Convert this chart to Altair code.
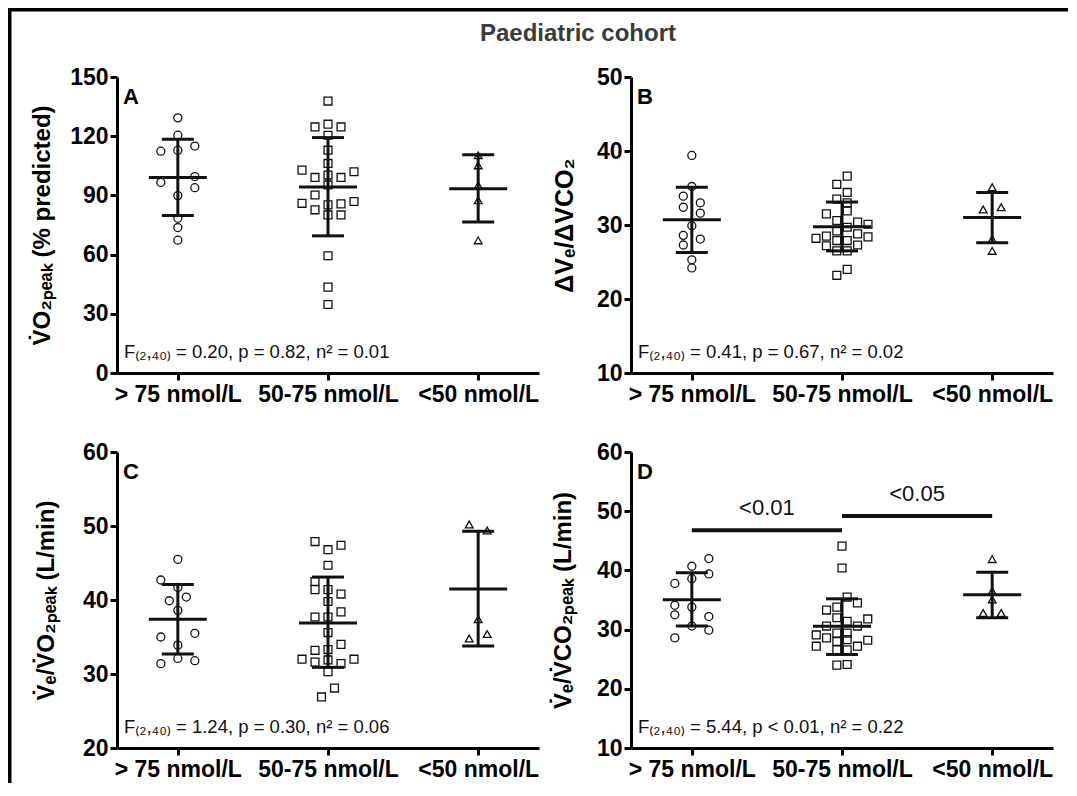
import altair as alt
import pandas as pd

FONT = "Liberation Sans"
CATEGORIES = ["> 75 nmol/L", "50-75 nmol/L", "<50 nmol/L"]
SUPER_TITLE = "Paediatric cohort"

# ---------- Panel A : VO2peak (% predicted) ----------
A_G1 = [129.3, 120.5, 112.4, 112.9, 115.0, 96.6, 99.5, 93.9, 89.9, 78.4, 73.7, 67.3]
A_G1_LANE = [0, 0, -1, 0, 1, -1, 1, 1, 0, 0, 0, 0]
A_G2 = [137.8, 124.7, 126.1, 124.7, 120.5, 112.9, 106.2, 102.8, 102.0, 99.1, 100.3, 99.1,
        95.3, 90.2, 86.0, 86.9, 82.7, 85.2, 85.7, 80.1, 80.1, 59.4, 43.5, 34.7]
A_G2_LANE = [0, -1, 0, 1, 0, 0, 0, -2, 2, -1, 0, 1, 0, -1, -2, 2, -1, 0, 1, 0, 1, 0, 0, 0]
A_G3 = [110.3, 105.2, 95.1, 87.5, 67.2]
A_G3_LANE = [0, 0, 0, 0, 0]
A_MEAN = [99.1, 94.3, 93.4]
A_SD_LO = [79.8, 69.5, 76.5]
A_SD_HI = [118.5, 119.3, 110.6]
A_STAT = "F₍₂,₄₀₎ = 0.20, p = 0.82, n² = 0.01"

# ---------- Panel B : dVE/dVCO2 ----------
B_G1 = [39.4, 35.2, 33.9, 33.0, 32.4, 31.6, 29.9, 28.6, 28.1, 27.3, 25.3, 24.2]
B_G1_LANE = [0, 0, -1, 1, -1, 1, 0, -1, 1, -1, 0, 0]
B_G2 = [36.6, 35.5, 34.4, 33.5, 33.0, 31.5, 31.9, 30.6, 30.4, 30.1, 29.7, 29.2,
        28.8, 28.2, 28.5, 28.4, 27.9, 27.9, 27.2, 27.3, 26.5, 26.5, 24.0, 23.2]
B_G2_LANE = [0.5, -0.5, 0.5, -0.5, 0.5, -1.5, 0.5, -0.5, 1.5, 2.5, 0.5, -0.5,
             1.5, -2.5, -1.5, 2.5, -0.5, 0.5, -1.5, 1.5, -0.5, 0.5, 0.5, -0.5]
B_G3 = [35.1, 32.4, 32.1, 28.1, 26.5]
B_G3_LANE = [0, 1, -1, 0, 0]
B_MEAN = [30.7, 29.75, 31.0]
B_SD_LO = [26.3, 26.5, 27.6]
B_SD_HI = [35.1, 33.1, 34.4]
B_STAT = "F₍₂,₄₀₎ = 0.41, p = 0.67, n² = 0.02"

# ---------- Panel C : VE/VO2peak ----------
C_G1 = [45.5, 42.7, 41.7, 39.9, 40.4, 38.6, 35.0, 35.5, 33.9, 31.4, 32.1, 31.8]
C_G1_LANE = [0, -1, 0, -0.5, 0.5, 0, -1, 1, 0, -1, 0, 1]
C_G2 = [47.9, 46.8, 47.4, 44.7, 42.5, 41.4, 41.4, 40.8, 39.8, 38.4, 37.7, 37.7,
        35.6, 33.2, 33.3, 34.0, 32.0, 31.6, 31.9, 31.4, 32.0, 30.3, 28.1, 26.9]
C_G2_LANE = [-1, 0, 1, 0, -1, -1, 0, 1, 0, 1, -1, 0, 0, -1, 0, 1, -2, -1, 0, 1, 2, 0, 0.5, -0.5]
C_G3 = [50.2, 49.4, 37.4, 34.8, 35.4]
C_G3_LANE = [-1, 1, 0, -1, 1]
C_MEAN = [37.4, 36.9, 41.5]
C_SD_LO = [32.7, 30.9, 33.8]
C_SD_HI = [42.1, 43.1, 49.3]
C_STAT = "F₍₂,₄₀₎ = 1.24, p = 0.30, n² = 0.06"

# ---------- Panel D : VE/VCO2peak ----------
D_G1 = [42.0, 40.7, 39.4, 38.6, 37.8, 34.1, 33.8, 32.5, 32.2, 30.6, 29.9, 28.6]
D_G1_LANE = [1, 0, 1, 0, -1, -1, 0, -1, 1, 0, 1, -1]
D_G2 = [44.1, 40.4, 35.5, 34.5, 33.3, 33.8, 31.8, 30.6, 31.4, 30.6, 29.1, 29.4,
        28.6, 28.2, 28.3, 27.2, 27.2, 26.6, 26.6, 24.0, 24.1, 32.0, 29.4, 28.0]
D_G2_LANE = [0, 0, 0.5, 1.5, -1.5, -0.5, 2.5, -1.5, 0.5, 1.5, -2.5, -0.5,
             -1.5, 2.5, 0.5, -2.5, 1.5, -0.5, 0.5, -0.5, 0.5, -0.5, 0.5, -0.5]
D_G3 = [41.9, 36.5, 35.1, 32.8, 32.8]
D_G3_LANE = [0, 0, 0, -1, 1]
D_MEAN = [35.05, 30.55, 35.9]
D_SD_LO = [30.6, 25.8, 32.0]
D_SD_HI = [39.6, 35.2, 39.7]
D_STAT = "F₍₂,₄₀₎ = 5.44, p < 0.01, n² = 0.22"
D_SIG_FROM = [1, 2]
D_SIG_TO = [2, 3]
D_SIG_Y = [46.8, 49.2]
D_SIG_LABEL = ["<0.01", "<0.05"]

# ---------- layout / style constants ----------
W, H = 422, 296
XDOM = [0.595, 3.405]
PX_PER_UNIT = W / (XDOM[1] - XDOM[0])
SHAPES = ["circle", "square", "triangle-up"]
SIZES = [64, 60, 50]
INK = "#111111"

label_expr = "[" + ",".join("'" + c + "'" for c in CATEGORIES) + "][datum.value - 1]"
xscale = alt.Scale(domain=XDOM, nice=False, zero=False)
xaxis = alt.Axis(values=[1, 2, 3], labelExpr=label_expr, title=None, labelFlush=False,
                 labelOverlap=False, labelPadding=3)


def panel(letter, groups, lanes, lane_px, mean, lo, hi, ydom, ystep, ytitle, title_x,
          title_size, stat, extra=None):
    rows = []
    for g in range(3):
        for v, ln in zip(groups[g], lanes[g]):
            rows.append({"grp": g + 1, "value": v,
                         "xpos": g + 1 + ln * lane_px[g] / PX_PER_UNIT})
    pts = pd.DataFrame(rows)
    summ = pd.DataFrame({"grp": [1, 2, 3], "mean": mean, "lo": lo, "hi": hi})

    yscale = alt.Scale(domain=ydom, nice=False, zero=False)
    yaxis = alt.Axis(values=list(range(ydom[0], ydom[1] + 1, ystep)), title=ytitle,
                     titleX=title_x, titleBaseline="alphabetic", titleFontSize=title_size,
                     labelPadding=2)

    points = alt.Chart(pts).mark_point(filled=False, strokeWidth=1.3, color=INK,
                                       opacity=1).encode(
        x=alt.X("xpos:Q", scale=xscale, axis=xaxis),
        y=alt.Y("value:Q", scale=yscale, axis=yaxis),
        shape=alt.Shape("grp:N", scale=alt.Scale(domain=[1, 2, 3], range=SHAPES), legend=None),
        size=alt.Size("grp:O", scale=alt.Scale(domain=[1, 2, 3], range=SIZES), legend=None),
    )
    base = alt.Chart(summ)
    vbar = base.mark_rule(strokeWidth=3, color=INK, opacity=1).encode(
        x=alt.X("grp:Q", scale=xscale, axis=xaxis),
        y=alt.Y("lo:Q", scale=yscale, axis=yaxis), y2="hi:Q")
    caps_lo = base.mark_tick(orient="horizontal", size=32, thickness=3, color=INK,
                             opacity=1).encode(
        x=alt.X("grp:Q", scale=xscale, axis=xaxis),
        y=alt.Y("lo:Q", scale=yscale, axis=yaxis))
    caps_hi = base.mark_tick(orient="horizontal", size=32, thickness=3, color=INK,
                             opacity=1).encode(
        x=alt.X("grp:Q", scale=xscale, axis=xaxis),
        y=alt.Y("hi:Q", scale=yscale, axis=yaxis))
    mean_line = base.mark_tick(orient="horizontal", size=58, thickness=3, color=INK,
                               opacity=1).encode(
        x=alt.X("grp:Q", scale=xscale, axis=xaxis),
        y=alt.Y("mean:Q", scale=yscale, axis=yaxis))

    letter_txt = alt.Chart(pd.DataFrame({"t": [letter]})).mark_text(
        font=FONT, fontSize=22, fontWeight="bold", align="left", baseline="alphabetic",
        color="black").encode(text="t:N", x=alt.value(6), y=alt.value(27))
    stat_txt = alt.Chart(pd.DataFrame({"t": [stat]})).mark_text(
        font=FONT, fontSize=18.5, align="left", baseline="alphabetic", color="#111111"
    ).encode(text="t:N", x=alt.value(7), y=alt.value(H - 15))

    layers = [points, vbar, caps_lo, caps_hi, mean_line, letter_txt, stat_txt]
    if extra is not None:
        layers += extra(xscale, yscale, yaxis)
    return alt.layer(*layers).properties(width=W, height=H)


def sig_layers(xs, ys, ya):
    sig = pd.DataFrame({"a": D_SIG_FROM, "b": D_SIG_TO, "y": D_SIG_Y, "label": D_SIG_LABEL})
    bars = alt.Chart(sig).mark_rule(strokeWidth=4, color=INK).encode(
        x=alt.X("a:Q", scale=xs, axis=xaxis), x2="b:Q",
        y=alt.Y("y:Q", scale=ys, axis=ya))
    txt = alt.Chart(sig).transform_calculate(mid="(datum.a + datum.b) / 2").mark_text(
        font=FONT, fontSize=22, dy=-15, baseline="alphabetic", color=INK).encode(
        x=alt.X("mid:Q", scale=xs, axis=xaxis),
        y=alt.Y("y:Q", scale=ys, axis=ya), text="label:N")
    return [bars, txt]


def frame_layers(xs, ys, ya):
    one = pd.DataFrame({"t": [SUPER_TITLE]})
    left = alt.Chart(one).mark_rect(color="black", strokeWidth=0).encode(
        x=alt.value(-109), x2=alt.value(-105.5), y=alt.value(-69), y2=alt.value(706))
    top = alt.Chart(one).mark_rect(color="black", strokeWidth=0).encode(
        x=alt.value(-109), x2=alt.value(951), y=alt.value(-69), y2=alt.value(-65.5))
    title = alt.Chart(one).mark_text(font=FONT, fontSize=24, fontWeight="bold",
                                     color="#3a3a3a", baseline="alphabetic").encode(
        text="t:N", x=alt.value(461), y=alt.value(-36))
    return [left, top, title]


pA = panel("A", [A_G1, A_G2, A_G3], [A_G1_LANE, A_G2_LANE, A_G3_LANE], [17, 13, 9],
           A_MEAN, A_SD_LO, A_SD_HI, [0, 150], 30, "V\u0307O₂ₚₑₐₖ  (% predicted)", -68, 24,
           A_STAT, extra=frame_layers)
pB = panel("B", [B_G1, B_G2, B_G3], [B_G1_LANE, B_G2_LANE, B_G3_LANE], [8.5, 10.4, 9],
           B_MEAN, B_SD_LO, B_SD_HI, [10, 50], 10, "ΔVₑ/ΔVCO₂", -59, 25, B_STAT)
pC = panel("C", [C_G1, C_G2, C_G3], [C_G1_LANE, C_G2_LANE, C_G3_LANE], [17, 13, 9],
           C_MEAN, C_SD_LO, C_SD_HI, [20, 60], 10, "V\u0307ₑ/V\u0307O₂ₚₑₐₖ (L/min)", -64, 24,
           C_STAT)
pD = panel("D", [D_G1, D_G2, D_G3], [D_G1_LANE, D_G2_LANE, D_G3_LANE], [17, 10.3, 9],
           D_MEAN, D_SD_LO, D_SD_HI, [10, 60], 10, "V\u0307ₑ/V\u0307CO₂ₚₑₐₖ (L/min)", -61, 24,
           D_STAT, extra=sig_layers)

chart = alt.concat(pA, pB, pC, pD, columns=2, spacing={"row": 79, "column": 92},
                   bounds="flush").properties(padding=0, background="white").configure_view(
    strokeWidth=0).configure_axis(
    domainColor="black", domainWidth=3, tickColor="black", tickWidth=3, tickSize=7,
    grid=False, labelFont=FONT, labelFontSize=23, labelFontWeight="bold", labelColor="black",
    titleFont=FONT, titleFontWeight="bold", titleColor="black")

chart.save("out.html", embed_options={"renderer": "svg", "actions": False})
